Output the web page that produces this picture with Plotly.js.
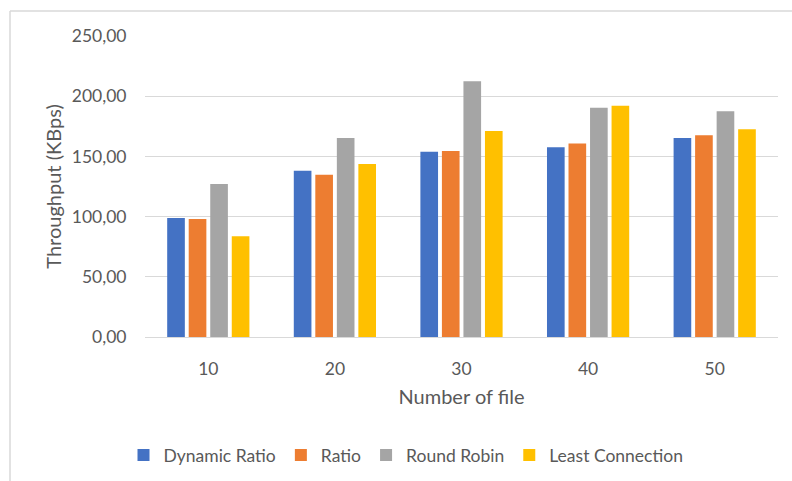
<!DOCTYPE html>
<html>
<head>
<meta charset="utf-8">
<script src="https://cdn.plot.ly/plotly-3.0.1.min.js"></script>
<style>
html,body{margin:0;padding:0;background:#fff;}
#chart{width:792px;height:481px;}
</style>
</head>
<body>
<div id="chart"></div>
<script>
var categories = ["10", "20", "30", "40", "50"];
var seriesNames = ["Dynamic Ratio", "Ratio", "Round Robin", "Least Connection"];
var dynamicRatio = [98.8, 138.0, 153.8, 157.7, 165.2];
var ratio = [98.0, 134.7, 154.4, 160.7, 167.6];
var roundRobin = [127.0, 165.2, 212.4, 190.5, 187.5];
var leastConnection = [83.6, 143.6, 171.0, 192.0, 172.6];
var yTickVals = [0, 50, 100, 150, 200, 250];
var yTickText = ["0,00", "50,00", "100,00", "150,00", "200,00", "250,00"];

var colors = ["#4472C4", "#ED7D31", "#A5A5A5", "#FFC000"];
var values = [dynamicRatio, ratio, roundRobin, leastConnection];
var FONT = "Lato, 'Open Sans', sans-serif";
var GREY = "#595959";

var traces = values.map(function (v, i) {
  return {
    type: "bar",
    name: seriesNames[i],
    x: categories,
    y: v,
    marker: {color: colors[i], line: {width: 0}},
    hoverinfo: "x+y+name"
  };
});

var L = 145, R = 14, T = 36, B = 144;
var pw = 792 - L - R, ph = 481 - T - B;
function px2x(p) { return (p - L) / pw; }
function py2y(p) { return (481 - B - p) / ph; }

var layout = {
  width: 792,
  height: 481,
  margin: {l: L, r: R, t: T, b: B, pad: 0, autoexpand: false},
  paper_bgcolor: "#ffffff",
  plot_bgcolor: "#ffffff",
  font: {family: FONT, color: GREY, size: 17},
  barmode: "group",
  bargap: 0.32,
  bargroupgap: 0.18,
  showlegend: true,
  xaxis: {
    type: "category",
    showgrid: false,
    zeroline: false,
    showline: false,
    ticks: "outside",
    ticklen: 16,
    tickcolor: "rgba(0,0,0,0)",
    tickfont: {family: FONT, color: GREY, size: 17.5},
    title: {text: "Number of file", font: {family: FONT, color: GREY, size: 20}, standoff: 11},
    fixedrange: true
  },
  yaxis: {
    range: [0, 250],
    tickvals: yTickVals,
    ticktext: yTickText,
    showgrid: true,
    gridcolor: "#D9D9D9",
    gridwidth: 1,
    zeroline: true,
    zerolinecolor: "#D9D9D9",
    zerolinewidth: 1,
    showline: false,
    ticks: "outside",
    ticklen: 14,
    tickcolor: "rgba(0,0,0,0)",
    tickfont: {family: FONT, color: GREY, size: 17.5},
    title: {text: "Throughput (KBps)", font: {family: FONT, color: GREY, size: 20}, standoff: 4},
    fixedrange: true
  },
  legend: {
    orientation: "h",
    x: px2x(406),
    xanchor: "center",
    y: py2y(455),
    yanchor: "middle",
    font: {family: FONT, color: GREY, size: 17.5},
    itemwidth: 30,
    bgcolor: "rgba(0,0,0,0)"
  },
  shapes: [
    {type: "line", xref: "paper", yref: "paper", x0: px2x(10), x1: px2x(800), y0: py2y(11), y1: py2y(11), line: {color: "#D9D9D9", width: 1.5}},
    {type: "line", xref: "paper", yref: "paper", x0: px2x(10), x1: px2x(10), y0: py2y(11), y1: py2y(490), line: {color: "#D9D9D9", width: 1.5}}
  ]
};

Plotly.newPlot("chart", traces, layout, {displayModeBar: false, staticPlot: true});
</script>
</body>
</html>
